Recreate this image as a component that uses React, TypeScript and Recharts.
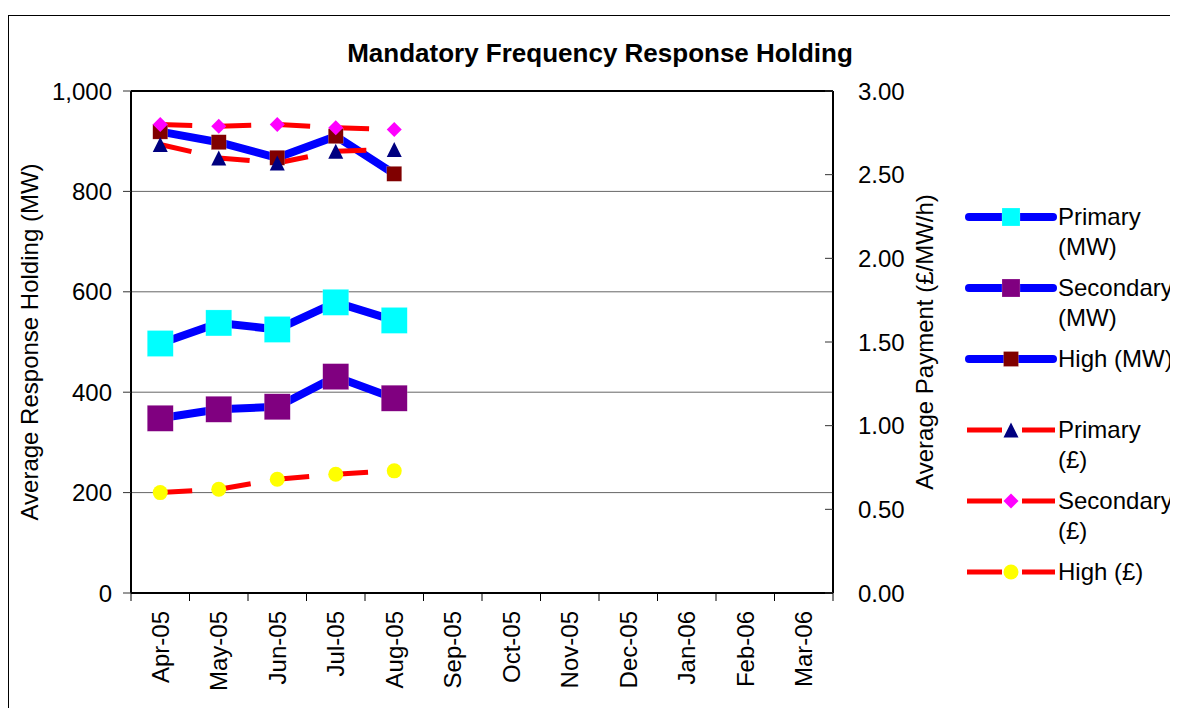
import React from "react";
import {
  LineChart,
  Line,
  XAxis,
  YAxis,
  CartesianGrid,
  ReferenceLine,
} from "recharts";

const months = [
  "Apr-05", "May-05", "Jun-05", "Jul-05", "Aug-05", "Sep-05",
  "Oct-05", "Nov-05", "Dec-05", "Jan-06", "Feb-06", "Mar-06",
];

// MW values (left axis), only Apr-Aug reported
const primaryMW = [497, 538, 525, 579, 543];
const secondaryMW = [348, 366, 371, 431, 388];
const highMW = [919, 898, 867, 910, 835];

// £/MW/h values (right axis)
const primaryGBP = [2.68, 2.6, 2.57, 2.64, 2.65];
const secondaryGBP = [2.8, 2.79, 2.8, 2.78, 2.77];
const highGBP = [0.6, 0.62, 0.68, 0.71, 0.73];

const leftTicks = [0, 200, 400, 600, 800, 1000];
const rightTicks = [0, 0.5, 1, 1.5, 2, 2.5, 3];

const data = months.map((m, i) => ({
  month: m,
  primaryMW: primaryMW[i] ?? null,
  secondaryMW: secondaryMW[i] ?? null,
  highMW: highMW[i] ?? null,
  primaryGBP: primaryGBP[i] ?? null,
  secondaryGBP: secondaryGBP[i] ?? null,
  highGBP: highGBP[i] ?? null,
}));

const FONT = "'Liberation Sans', Arial, sans-serif";

type Shape = "square" | "triangle" | "diamond" | "circle";

const series = [
  { key: "primaryMW", name: "Primary (MW)", wrap: true, axis: "left", stroke: "#0000ff", width: 8, dash: undefined, shape: "square" as Shape, size: 26, fill: "#00ffff" },
  { key: "secondaryMW", name: "Secondary (MW)", wrap: true, axis: "left", stroke: "#0000ff", width: 8, dash: undefined, shape: "square" as Shape, size: 26, fill: "#800080" },
  { key: "highMW", name: "High (MW)", wrap: false, axis: "left", stroke: "#0000ff", width: 8, dash: undefined, shape: "square" as Shape, size: 15, fill: "#800000" },
  { key: "primaryGBP", name: "Primary (£)", wrap: true, axis: "right", stroke: "#ff0000", width: 5, dash: "32 27", shape: "triangle" as Shape, size: 15, fill: "#000080" },
  { key: "secondaryGBP", name: "Secondary (£)", wrap: true, axis: "right", stroke: "#ff0000", width: 5, dash: "32 27", shape: "diamond" as Shape, size: 15, fill: "#ff00ff" },
  { key: "highGBP", name: "High (£)", wrap: false, axis: "right", stroke: "#ff0000", width: 5, dash: "32 27", shape: "circle" as Shape, size: 15, fill: "#ffff00" },
];

function Marker({ cx, cy, shape, size, fill }: any) {
  const h = size / 2;
  if (shape === "square") {
    return <rect x={cx - h} y={cy - h} width={size} height={size} fill={fill} stroke="#ffffff" strokeOpacity={0.4} strokeWidth={0.5} />;
  }
  if (shape === "triangle") {
    return <polygon points={`${cx},${cy - h} ${cx + h},${cy + h} ${cx - h},${cy + h}`} fill={fill} />;
  }
  if (shape === "diamond") {
    return <polygon points={`${cx},${cy - h} ${cx + h},${cy} ${cx},${cy + h} ${cx - h},${cy}`} fill={fill} />;
  }
  return <circle cx={cx} cy={cy} r={h} fill={fill} />;
}

const makeDot = (shape: Shape, size: number, fill: string) => (props: any) => {
  const { cx, cy, index, value } = props;
  if (value == null || cx == null || cy == null) return <g key={`d-${index}`} />;
  return (
    <g key={`d-${index}`}>
      <Marker cx={cx} cy={cy} shape={shape} size={size} fill={fill} />
    </g>
  );
};

function MonthTick(props: any) {
  const { x, y, payload, width, visibleTicksCount, index } = props;
  const band = width && visibleTicksCount ? width / visibleTicksCount : 58.5;
  const left = x - band / 2;
  const ty = y + 10;
  return (
    <g>
      <line x1={left} y1={y - 8} x2={left} y2={y} stroke="#000" strokeWidth={1} />
      {index === visibleTicksCount - 1 && (
        <line x1={left + band} y1={y - 8} x2={left + band} y2={y} stroke="#000" strokeWidth={1} />
      )}
      <text
        x={x}
        y={ty}
        dy="0.35em"
        textAnchor="end"
        transform={`rotate(-90, ${x}, ${ty})`}
        fill="#000"
        fontSize={24}
        fontFamily={FONT}
      >
        {payload.value}
      </text>
    </g>
  );
}

function LegendIcon({ s }: any) {
  return (
    <svg width={92} height={30} style={{ display: "block", flex: "none" }}>
      {s.dash ? (
        <>
          <line x1={2} y1={15} x2={37} y2={15} stroke={s.stroke} strokeWidth={s.width} />
          <line x1={57} y1={15} x2={90} y2={15} stroke={s.stroke} strokeWidth={s.width} />
        </>
      ) : (
        <line x1={4} y1={15} x2={88} y2={15} stroke={s.stroke} strokeWidth={s.width} strokeLinecap="round" />
      )}
      <Marker cx={46} cy={15} shape={s.shape} size={s.shape === "square" ? (s.size > 20 ? 18 : 15) : s.size} fill={s.fill} />
    </svg>
  );
}

function legendLabel(s: any) {
  if (!s.wrap) return s.name;
  const cut = s.name.lastIndexOf(" (");
  return (
    <>
      {s.name.slice(0, cut)}
      <br />
      {s.name.slice(cut + 1)}
    </>
  );
}

export default function App() {
  return (
    <div style={{ position: "relative", width: 1170, height: 700, overflow: "hidden", fontFamily: FONT }}>
      <div
        style={{
          position: "absolute",
          left: 0,
          top: 7,
          width: 1300,
          height: 800,
          border: "1px solid #000",
          boxSizing: "border-box",
        }}
      />
      <div
        style={{
          position: "absolute",
          left: 592,
          top: 45,
          transform: "translate(-50%, -50%)",
          fontSize: 26,
          fontWeight: "bold",
          whiteSpace: "nowrap",
        }}
      >
        Mandatory Frequency Response Holding
      </div>
      <div
        style={{
          position: "absolute",
          left: 22,
          top: 334,
          transform: "translate(-50%, -50%) rotate(-90deg)",
          fontSize: 24,
          whiteSpace: "nowrap",
        }}
      >
        Average Response Holding (MW)
      </div>
      <div
        style={{
          position: "absolute",
          left: 917,
          top: 334,
          transform: "translate(-50%, -50%) rotate(-90deg)",
          fontSize: 24,
          whiteSpace: "nowrap",
        }}
      >
        Average Payment (£/MW/h)
      </div>

      <div style={{ position: "absolute", left: 0, top: 0 }}>
        <LineChart
          width={1170}
          height={700}
          data={data}
          margin={{ top: 83, left: 0, right: 245, bottom: 5 }}
        >
          <CartesianGrid yAxisId="left" vertical={false} horizontal stroke="#666" strokeWidth={1} />
          <XAxis
            dataKey="month"
            height={110}
            padding={{ left: 29.25, right: 29.25 }}
            tick={<MonthTick />}
            tickLine={false}
            tickSize={8}
            tickMargin={0}
            interval={0}
            axisLine={{ stroke: "#000", strokeWidth: 2 }}
          />
          <YAxis
            yAxisId="left"
            width={123}
            domain={[0, 1000]}
            ticks={leftTicks}
            interval={0}
            tickSize={8}
            tickMargin={11}
            tickFormatter={(v: number) => v.toLocaleString("en-US")}
            tick={{ fill: "#000", fontSize: 24, fontFamily: FONT }}
            tickLine={{ stroke: "#333" }}
            axisLine={{ stroke: "#000", strokeWidth: 2 }}
          />
          <YAxis
            yAxisId="right"
            orientation="right"
            width={100}
            domain={[0, 3]}
            ticks={rightTicks}
            interval={0}
            tickSize={-8}
            tickMargin={33}
            tickFormatter={(v: number) => v.toFixed(2)}
            tick={{ fill: "#000", fontSize: 24, fontFamily: FONT }}
            tickLine={{ stroke: "#333" }}
            axisLine={{ stroke: "#000", strokeWidth: 2 }}
          />
          <ReferenceLine yAxisId="left" y={1000} stroke="#000" strokeWidth={2} />
          {series.map((s) => (
            <Line
              key={s.key}
              yAxisId={s.axis}
              dataKey={s.key}
              name={s.name}
              type="linear"
              stroke={s.stroke}
              strokeWidth={s.width}
              strokeDasharray={s.dash}
              strokeLinejoin="round"
              dot={makeDot(s.shape, s.size, s.fill)}
              activeDot={false}
              connectNulls={false}
              isAnimationActive={false}
            />
          ))}
        </LineChart>
      </div>

      {series.map((s, i) => (
        <div
          key={s.key}
          style={{
            position: "absolute",
            left: 957,
            top: 194 + i * 71,
            display: "flex",
            alignItems: "flex-start",
            fontSize: 24,
            lineHeight: "30px",
            whiteSpace: "nowrap",
          }}
        >
          <LegendIcon s={s} />
          <div style={{ marginLeft: 1 }}>{legendLabel(s)}</div>
        </div>
      ))}
    </div>
  );
}
